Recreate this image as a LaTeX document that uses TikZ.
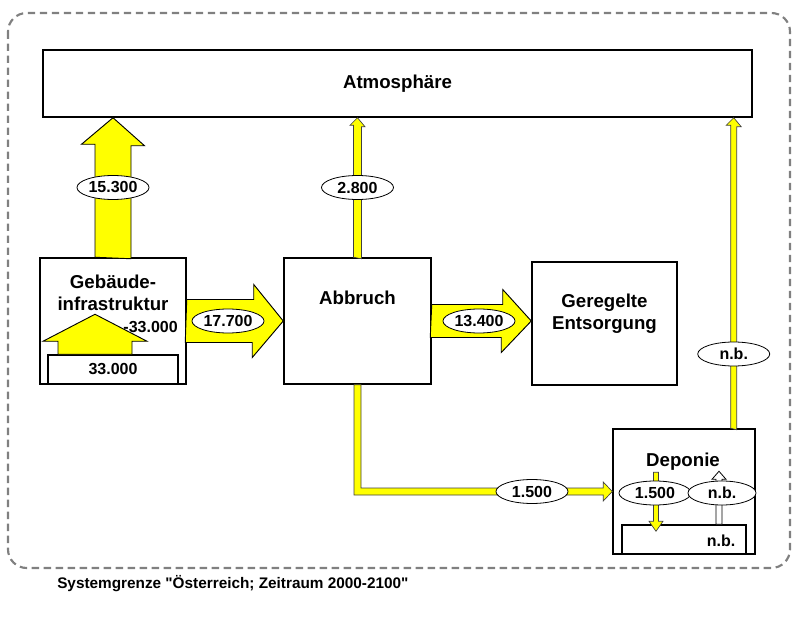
\documentclass[tikz,border=0pt]{standalone}
\usepackage{fontspec}
\setmainfont[Ligatures=TeXOff]{Liberation Sans}
\usetikzlibrary{calc,shapes.geometric}
\definecolor{flowyellow}{RGB}{255,255,0}
\definecolor{sysgray}{RGB}{128,128,128}

\begin{document}
\begin{tikzpicture}[x=0.75pt,y=-0.75pt,
    box/.style={draw,line width=1.1pt,fill=white,inner sep=0pt},
    lbl/.style={font=\fontsize{14}{16.5}\selectfont\bfseries,align=center,inner sep=0pt},
    val/.style={ellipse,draw,fill=white,line width=0.6pt,minimum width=54pt,minimum height=18pt,
        inner sep=0pt,font=\fontsize{12}{14}\selectfont\bfseries},
    num/.style={font=\fontsize{12}{14}\selectfont\bfseries,inner sep=0pt},
    flow/.style={draw=black,line width=0.7pt,fill=flowyellow,line join=miter},
    thinflow/.style={draw=black!75,line width=0.5pt,fill=flowyellow,line join=miter}]
    \useasboundingbox (0,0) rectangle (794,617);

    % System boundary
    \draw[sysgray,line width=1.6pt,dash pattern=on 5.5pt off 3.5pt,rounded corners=14pt]
        (8,13) rectangle (790,568);
    \node[font=\fontsize{11.5}{13}\selectfont\bfseries,anchor=west,inner sep=0pt] (sysgr) at (57,584)
        {Systemgrenze "Österreich; Zeitraum 2000-2100"};

    % Processes
    \node[box,minimum width=531.75pt,minimum height=50.25pt,font=\fontsize{14}{16}\selectfont\bfseries]
        (atmo) at (397.5,83.5) {Atmosphäre};
    \node[box,minimum width=109.5pt,minimum height=94.5pt] (geb) at (113,321) {};
    \node[box,minimum width=97.5pt,minimum height=21.75pt,font=\fontsize{12}{14}\selectfont\bfseries]
        (stock) at (113,369.5) {33.000};
    \node[box,minimum width=110.25pt,minimum height=94.5pt] (abb) at (357.5,321) {};
    \node[box,minimum width=108.75pt,minimum height=92.25pt] (ger) at (604.5,323.5) {};
    \node[box,minimum width=106.5pt,minimum height=93.75pt] (dep) at (684,491.5) {};
    \node[box,minimum width=93pt,minimum height=21.75pt] (depstock) at (684,539.5) {};

    % Process names
    \node[lbl] (gebtxt) at (113,292.5) {Gebäude-\\infrastruktur};
    \node[lbl] (abbtxt) at (357.5,298) {Abbruch};
    \node[lbl] (gertxt) at (604.5,314) {Geregelte\\Entsorgung};
    \node[lbl] (deptxt) at (683,462) {Deponie};
    \node[num] (depstocktxt) at (721,541) {n.b.};

    % Stock change
    \draw[flow] ($(stock.north)+(-55,0)$) -- ++(0,-13) -- ++(-15,0) -- ++(52,-27)
        -- ++(52,27) -- ++(-15,0) -- ++(0,13) -- cycle;
    \node[num,anchor=east] (gebdelta) at (178,327) {-33.000};

    % Flows
    \draw[flow] ($(geb.north)+(-18,0)$) -- ++(0,-113) -- ++(-13.5,0) -- (geb.north |- atmo.south)
        -- ++(31.5,28) -- ++(-13.5,0) -- ++(0,113) -- cycle;
    \draw[flow] ($(geb.east)+(0,-21.5)$) -- ++(67,0) -- ++(0,-15) -- (abb.west)
        -- ++(-31,36.5) -- ++(0,-15) -- ++(-67,0) -- cycle;
    \draw[flow] ($(abb.east)+(0,-16.5)$) -- ++(71,0) -- ++(0,-15) -- (ger.west |- abb.east)
        -- ++(-30,31.5) -- ++(0,-15) -- ++(-71,0) -- cycle;
    \draw[thinflow] ($(abb.north)+(-4,0)$) -- ++(0,-132) -- ++(-3.5,0) -- (abb.north |- atmo.south)
        -- ++(7.5,9) -- ++(-3.5,0) -- ++(0,132) -- cycle;
    \draw[thinflow] ($(abb.south)+(-3.5,0)$) |- ($(dep.west)+(-9,3.5)$) -- ++(0,6) -- (dep.west)
        -- ++(-9,-9.5) -- ++(0,6) -| ($(abb.south)+(3.5,0)$) -- cycle;
    \coordinate (depout) at ($(dep.north east)+(-22,0)$);
    \draw[thinflow] ($(depout)+(-3,0)$) -- ++(0,-303) -- ++(-4.5,0) -- (depout |- atmo.south)
        -- ++(7.5,9) -- ++(-4.5,0) -- ++(0,303) -- cycle;

    % Deponie inside
    \draw[thinflow] ($(depstock.north)+(-30.5,-52)$) -- ++(0,49) -- ++(-4.5,0) -- ++(7,10)
        -- ++(7,-10) -- ++(-4.5,0) -- ++(0,-49) -- cycle;
    \draw[draw=black,line width=0.6pt,fill=white] ($(depstock.north)+(32,0)$) -- ++(0,-45) -- ++(-4,0)
        -- ++(7,-8) -- ++(7,8) -- ++(-4,0) -- ++(0,45) -- cycle;

    % Values
    \node[val] (v15300) at ($(geb.north)!0.5!(geb.north |- atmo.south)$) {15.300};
    \node[val] (v17700) at (228,321) {17.700};
    \node[val] (v13400) at (479,321) {13.400};
    \node[val] (v2800) at ($(abb.north)!0.5!(abb.north |- atmo.south)$) {2.800};
    \node[val] (v1500) at (532,491.5) {1.500};
    \node[val] (vnbout) at (depout |- 0,354) {n.b.};
    \node[val] (vdep1500) at (655,493) {1.500};
    \node[val,minimum width=51pt] (vdepnb) at (722,493) {n.b.};
\end{tikzpicture}
\end{document}
